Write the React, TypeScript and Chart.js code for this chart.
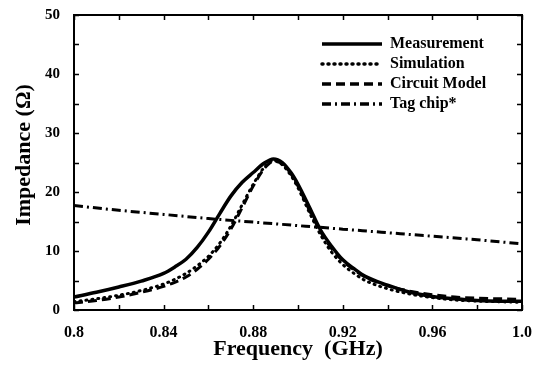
import React, { useEffect, useRef } from "react";
import { Chart, registerables } from "chart.js";

Chart.register(...registerables);

const freqs = [0.80, 0.81, 0.82, 0.83, 0.84, 0.845, 0.85, 0.855, 0.86, 0.865, 0.87, 0.875, 0.88, 0.885, 0.889, 0.893, 0.897, 0.90, 0.905, 0.91, 0.915, 0.92, 0.925, 0.93, 0.94, 0.95, 0.96, 0.97, 0.98, 0.99, 1.0];
const measurement = [2.2, 3.0, 3.9, 4.9, 6.2, 7.3, 8.6, 10.6, 13.2, 16.3, 19.3, 21.6, 23.3, 24.9, 25.6, 25.0, 23.2, 21.3, 17.5, 13.6, 10.8, 8.5, 7.0, 5.7, 4.2, 3.0, 2.3, 1.9, 1.6, 1.5, 1.5];
const simulation = [1.4, 1.9, 2.5, 3.3, 4.4, 5.2, 6.2, 7.5, 9.1, 11.3, 14.2, 17.8, 21.3, 24.2, 25.3, 24.6, 22.7, 20.7, 16.6, 12.8, 9.8, 7.7, 6.2, 5.0, 3.6, 2.7, 2.1, 1.7, 1.5, 1.4, 1.3];
const circuitModel = [1.2, 1.6, 2.2, 3.0, 4.0, 4.7, 5.6, 6.9, 8.6, 10.8, 13.7, 17.3, 21.0, 24.0, 25.2, 24.8, 23.0, 21.0, 17.0, 13.3, 10.4, 8.3, 6.8, 5.6, 4.1, 3.2, 2.6, 2.2, 2.0, 1.9, 1.8];
const tagFreqs = [0.80, 0.82, 0.84, 0.86, 0.88, 0.90, 0.92, 0.94, 0.96, 0.98, 1.0];
const tagChip = [17.7, 16.9, 16.2, 15.5, 14.9, 14.3, 13.7, 13.1, 12.5, 11.9, 11.2];

const seriesNames = ["Measurement", "Simulation", "Circuit Model", "Tag chip*"];
const xTitle = "Frequency  (GHz)";
const yTitle = "Impedance (\u03A9)";

const FONT = "'Liberation Serif', 'DejaVu Serif', serif";

const dashes: number[][] = [[], [1, 5], [9, 5], [9, 4, 2, 4]];

const decorPlugin = {
  id: "decor",
  afterDatasetsDraw(chart: any) {
    const ctx = chart.ctx;
    const { left, right, top, bottom } = chart.chartArea;
    const xs = chart.scales.x;
    const ys = chart.scales.y;
    ctx.save();
    ctx.strokeStyle = "#000";
    ctx.lineWidth = 2;
    ctx.setLineDash([]);
    ctx.strokeRect(left, top, right - left, bottom - top);
    ctx.lineWidth = 1.5;
    for (let i = 0; i <= 10; i++) {
      const v = 0.8 + i * 0.02;
      const px = Math.round(xs.getPixelForValue(v)) + 0.5;
      const len = 5;
      ctx.beginPath();
      ctx.moveTo(px, bottom);
      ctx.lineTo(px, bottom - len);
      ctx.moveTo(px, top);
      ctx.lineTo(px, top + len);
      ctx.stroke();
    }
    for (let i = 0; i <= 10; i++) {
      const v = i * 5;
      const py = Math.round(ys.getPixelForValue(v)) + 0.5;
      const len = 5;
      ctx.beginPath();
      ctx.moveTo(left, py);
      ctx.lineTo(left + len, py);
      ctx.moveTo(right, py);
      ctx.lineTo(right - len, py);
      ctx.stroke();
    }
    // legend
    const lx0 = left + 248;
    const lx1 = left + 308;
    ctx.font = `bold 16px ${FONT}`;
    ctx.fillStyle = "#000";
    ctx.textBaseline = "middle";
    ctx.textAlign = "left";
    for (let i = 0; i < seriesNames.length; i++) {
      const y = top + 29 + i * 20;
      ctx.beginPath();
      ctx.lineWidth = 3.5;
      ctx.lineCap = i === 1 ? "round" : "butt";
      ctx.setLineDash(dashes[i]);
      ctx.moveTo(lx0, y);
      ctx.lineTo(lx1, y);
      ctx.stroke();
      ctx.setLineDash([]);
      ctx.fillText(seriesNames[i], lx1 + 8, y);
    }
    // axis titles
    ctx.font = `bold 22px ${FONT}`;
    ctx.textAlign = "center";
    ctx.textBaseline = "middle";
    ctx.fillText(xTitle, 298, 349);
    ctx.save();
    ctx.translate(24, 155);
    ctx.rotate(-Math.PI / 2);
    ctx.fillText(yTitle, 0, 0);
    ctx.restore();
    ctx.restore();
  },
};

function pts(xs: number[], ys: number[]) {
  return xs.map((x, i) => ({ x, y: ys[i] }));
}

export default function App() {
  const ref = useRef<HTMLCanvasElement>(null);
  useEffect(() => {
    document.body.style.margin = "0";
    const canvas = ref.current!;
    const common = {
      pointRadius: 0,
      borderColor: "#000",
      backgroundColor: "#000",
      fill: false,
      cubicInterpolationMode: "monotone" as const,
    };
    const chart = new Chart(canvas, {
      type: "line",
      data: {
        datasets: [
          { ...common, label: seriesNames[0], data: pts(freqs, measurement), borderWidth: 3.5 },
          { ...common, label: seriesNames[1], data: pts(freqs, simulation), borderWidth: 3, borderDash: dashes[1], borderCapStyle: "round" },
          { ...common, label: seriesNames[2], data: pts(freqs, circuitModel), borderWidth: 3, borderDash: dashes[2] },
          { ...common, label: seriesNames[3], data: pts(tagFreqs, tagChip), borderWidth: 3, borderDash: dashes[3] },
        ],
      },
      options: {
        responsive: false,
        animation: false,
        layout: { padding: { top: 13, right: 17, left: 0, bottom: 0 } },
        plugins: { legend: { display: false }, tooltip: { enabled: false } },
        scales: {
          x: {
            type: "linear",
            min: 0.8,
            max: 1.0,
            grid: { display: false },
            border: { display: false },
            afterFit: (s: any) => { s.height = 60; },
            ticks: {
              stepSize: 0.04,
              padding: 5,
              color: "#000",
              font: { family: FONT, size: 16, weight: "bold" },
              callback: (v: any) => {
                const r = Math.round(Number(v) * 100) / 100;
                if (r === 0.8) return "0.8";
                if (r === 1) return "1.0";
                return r.toFixed(2);
              },
            },
          },
          y: {
            min: 0,
            max: 50,
            grid: { display: false },
            border: { display: false },
            afterFit: (s: any) => { s.width = 74; },
            ticks: {
              stepSize: 10,
              padding: 6,
              color: "#000",
              font: { family: FONT, size: 15, weight: "bold" },
            },
          },
        },
      },
      plugins: [decorPlugin],
    });
    return () => chart.destroy();
  }, []);
  return (
    <div style={{ width: 539, height: 370, background: "#fff" }}>
      <canvas ref={ref} width={539} height={370} />
    </div>
  );
}
